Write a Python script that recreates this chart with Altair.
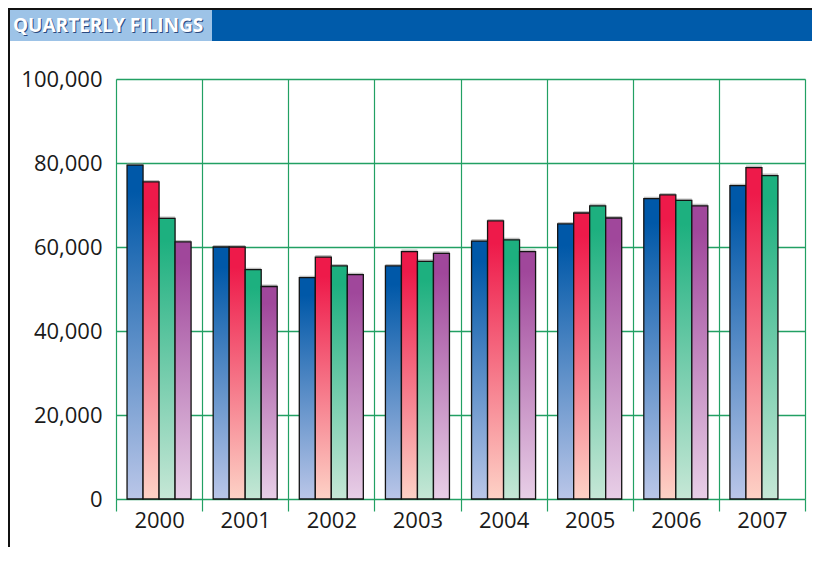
import altair as alt
import pandas as pd

years = ["2000", "2001", "2002", "2003", "2004", "2005", "2006", "2007"]
quarters = ["Q1", "Q2", "Q3", "Q4"]
q1 = [79500, 60000, 52700, 55500, 61400, 65500, 71500, 74600]
q2 = [75500, 60000, 57600, 58900, 66200, 68100, 72400, 78900]
q3 = [66800, 54600, 55500, 56600, 61700, 69800, 71100, 77000]
q4 = [61200, 50600, 53400, 58500, 58900, 66900, 69800, None]
y_ticks = [0, 20000, 40000, 60000, 80000, 100000]
title_text = "QUARTERLY FILINGS"

top_colors = ["#0058A8", "#EE1A4A", "#1DB07F", "#A0479B"]
bottom_colors = ["#BAC6E8", "#FDD2C6", "#C6E7D6", "#E8CFE7"]

rows = []
for q, series in zip(quarters, [q1, q2, q3, q4]):
    for yr, v in zip(years, series):
        if v is not None:
            rows.append({"year": yr, "quarter": q, "value": v})
df = pd.DataFrame(rows)

W, H = 689, 420
GREEN = "#22A063"

base = alt.Chart(df).encode(
    x=alt.X(
        "year:N",
        sort=years,
        scale=alt.Scale(paddingInner=0, paddingOuter=0),
        axis=alt.Axis(
            title=None, labelAngle=0, tickBand="extent", grid=True,
            tickSize=12, tickColor=GREEN, tickWidth=1.2, gridColor=GREEN,
            gridWidth=1.2, domain=False,
            labelFontSize=22, labelFont="Open Sans", labelColor="#1a1a1a",
            labelPadding=-1,
        ),
    ),
    xOffset=alt.XOffset(
        "quarter:N", sort=quarters,
        scale=alt.Scale(domain=quarters, paddingInner=0, paddingOuter=0.69),
    ),
    y=alt.Y(
        "value:Q",
        scale=alt.Scale(domain=[0, 100000], nice=False),
        axis=alt.Axis(
            title=None, values=y_ticks, format=",d", ticks=False, domain=False,
            gridColor=GREEN, gridWidth=1.3, labelFontSize=22, labelFont="Open Sans",
            labelColor="#1a1a1a", labelPadding=14,
        ),
    ),
)

shadow = base.mark_bar(color="#8c8c8c", opacity=0.55, xOffset=-2, yOffset=-2)

bar_layers = []
for q, tc, bc in zip(quarters, top_colors, bottom_colors):
    grad = alt.LinearGradient(
        gradient="linear", x1=0, x2=0, y1=0, y2=1,
        stops=[alt.GradientStop(offset=0, color=tc),
               alt.GradientStop(offset=0.08, color=tc),
               alt.GradientStop(offset=1, color=bc)],
    )
    bar_layers.append(
        base.transform_filter(alt.datum.quarter == q).mark_bar(
            fill=grad, stroke="#141414", strokeWidth=1.3
        )
    )

one = alt.Data(values=[{"k": 1}])
frame_top = alt.Chart(one).mark_rect(color="#111111").encode(
    x=alt.value(-108), x2=alt.value(W + 7), y=alt.value(-71), y2=alt.value(-69)
)
frame_left = alt.Chart(one).mark_rect(color="#111111").encode(
    x=alt.value(-108), x2=alt.value(-106), y=alt.value(-71), y2=alt.value(H + 48)
)
bar_dark = alt.Chart(one).mark_rect(color="#005BAA").encode(
    x=alt.value(-106), x2=alt.value(W + 7), y=alt.value(-69), y2=alt.value(-38)
)
bar_light = alt.Chart(one).mark_rect(color="#9DC3E7").encode(
    x=alt.value(-106), x2=alt.value(96), y=alt.value(-69), y2=alt.value(-38)
)
title_shadow = alt.Chart(one).mark_text(
    align="left", baseline="middle", fontSize=19, fontWeight="bold",
    font="Open Sans", color="#2a4a80"
).encode(x=alt.value(-102), y=alt.value(-52), text=alt.value(title_text))
title = alt.Chart(one).mark_text(
    align="left", baseline="middle", fontSize=19, fontWeight="bold",
    font="Open Sans", color="white"
).encode(x=alt.value(-103), y=alt.value(-53), text=alt.value(title_text))

chart = alt.layer(
    shadow, *bar_layers, frame_top, frame_left, bar_dark, bar_light, title_shadow, title
).properties(
    width=W, height=H,
    padding={"left": 108, "top": 71, "right": 7, "bottom": 48},
    autosize=alt.AutoSizeParams(type="none"),
).configure_view(
    fill="#EFF0F1", stroke="#4DBA85", strokeWidth=1.5
).configure(background="white")

chart.save("out.html", embed_options={"renderer": "svg", "actions": False})
